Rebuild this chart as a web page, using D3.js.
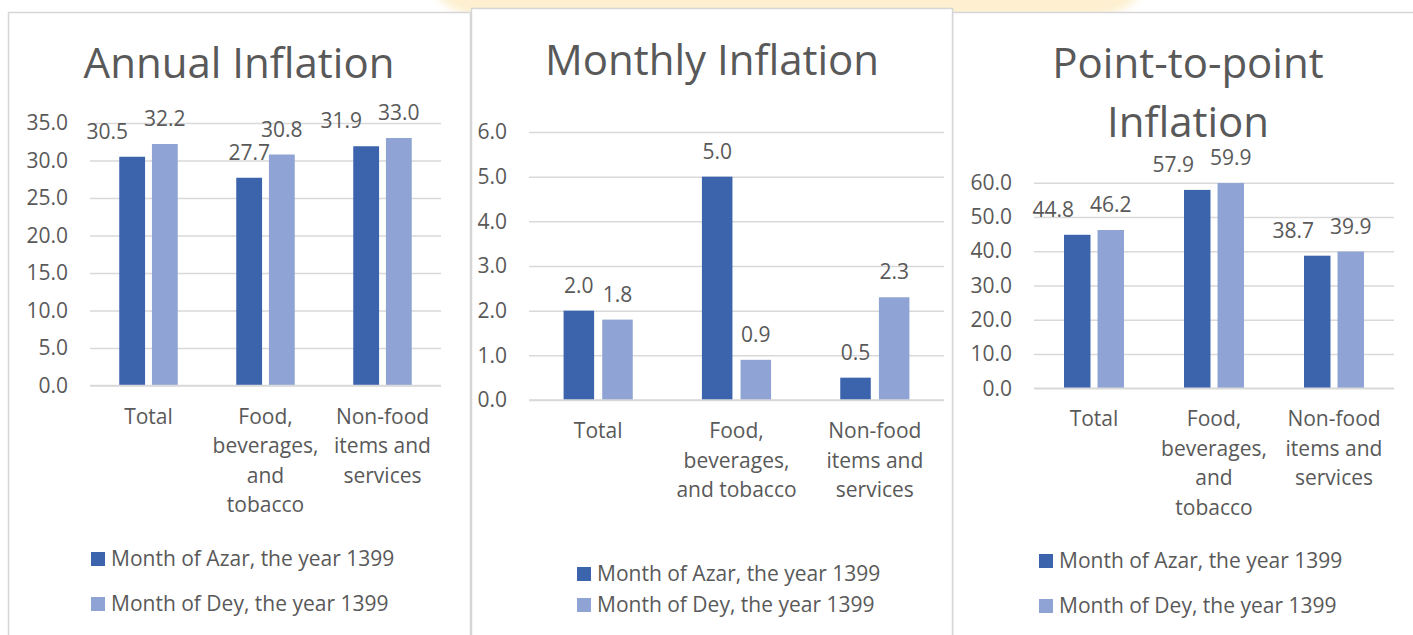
<!DOCTYPE html>
<html>
<head>
<meta charset="utf-8">
<script src="https://cdn.jsdelivr.net/npm/d3@7"></script>
<style>
  body { margin: 0; background: #fff; }
  svg text { font-family: "Open Sans", "Noto Sans", sans-serif; fill: #595959; }
</style>
</head>
<body>
<div id="chart"></div>
<script>
(function() {
	var width = 1413,
		height = 635;

	// chart data
	var categories = ["Total", "Food, beverages, and tobacco", "Non-food items and services"];
	var seriesNames = ["Month of Azar, the year 1399", "Month of Dey, the year 1399"];
	var seriesColors = ["#3b64ad", "#8fa4d4"];

	var annualAzar = [30.5, 27.7, 31.9];
	var annualDey = [32.2, 30.8, 33.0];
	var monthlyAzar = [2.0, 5.0, 0.5];
	var monthlyDey = [1.8, 0.9, 2.3];
	var p2pAzar = [44.8, 57.9, 38.7];
	var p2pDey = [46.2, 59.9, 39.9];

	var annualTicks = [0, 5, 10, 15, 20, 25, 30, 35];
	var monthlyTicks = [0, 1, 2, 3, 4, 5, 6];
	var p2pTicks = [0, 10, 20, 30, 40, 50, 60];

	var annualTitle = ["Annual Inflation"];
	var monthlyTitle = ["Monthly Inflation"];
	var p2pTitle = ["Point-to-point", "Inflation"];

	var fontSize = "21px";

	// layout of each chart box
	var panels = [
		{ box: [8, 12, 470], plot: [90, 441, 123, 385.5], titleY: 78, titleX: 239,
		  title: annualTitle, ticks: annualTicks, series: [annualAzar, annualDey],
		  legendX: 91, legendY: [552, 597] },
		{ box: [952, 12, 1414], plot: [1034, 1394, 182.7, 388.3], titleY: 78, titleX: 1188,
		  title: p2pTitle, ticks: p2pTicks, series: [p2pAzar, p2pDey],
		  legendX: 1039, legendY: [554, 599] },
		{ box: [471, 8, 952], plot: [529, 944, 132, 400], titleY: 75, titleX: 712,
		  title: monthlyTitle, ticks: monthlyTicks, series: [monthlyAzar, monthlyDey],
		  legendX: 577, legendY: [567, 598] }
	];

	var svg = d3.select("#chart")
		.append("svg")
		.attr("width", width)
		.attr("height", height);

	// faint yellow glow behind the middle box
	var defs = svg.append("defs");
	defs.append("filter").attr("id", "blur")
		.append("feGaussianBlur").attr("stdDeviation", 4);
	svg.append("rect")
		.attr("x", 432).attr("y", -60)
		.attr("width", 712).attr("height", 76)
		.attr("rx", 50)
		.attr("fill", "#fdefcf")
		.attr("filter", "url(#blur)");

	panels.forEach(function(p) {
		var g = svg.append("g");

		// box
		g.append("rect")
			.attr("x", p.box[0] + 0.5).attr("y", p.box[1] + 0.5)
			.attr("width", p.box[2] - p.box[0]).attr("height", height + 20)
			.attr("fill", "#fff")
			.attr("stroke", "#d6d6d6")
			.attr("stroke-width", 1.5);

		// title
		g.selectAll(".title")
			.data(p.title)
			.enter().append("text")
			.attr("x", p.titleX)
			.attr("y", function(d, i) { return p.titleY + i * 59; })
			.attr("text-anchor", "middle")
			.style("font-size", "42px")
			.text(function(d) { return d; });

		var x = d3.scaleBand()
			.domain(categories)
			.range([p.plot[0], p.plot[1]])
			.paddingInner(0.5)
			.paddingOuter(0.25);

		var xSeries = d3.scaleBand()
			.domain([0, 1])
			.range([0, x.bandwidth()])
			.paddingInner(0.21);

		var y = d3.scaleLinear()
			.domain([0, d3.max(p.ticks)])
			.range([p.plot[3], p.plot[2]]);

		// gridlines
		g.append("g")
			.attr("transform", "translate(" + p.plot[0] + ",0)")
			.call(d3.axisLeft(y).tickValues(p.ticks).tickSize(-(p.plot[1] - p.plot[0])).tickFormat(""))
			.call(function(a) {
				a.select(".domain").remove();
				a.selectAll("line").attr("stroke", "#d9d9d9").attr("stroke-width", 1.5);
			});

		// y tick labels
		g.append("g")
			.attr("transform", "translate(" + (p.plot[0] - 22) + ",0)")
			.call(d3.axisLeft(y).tickValues(p.ticks).tickSize(0).tickPadding(0).tickFormat(d3.format(".1f")))
			.call(function(a) {
				a.select(".domain").remove();
				a.selectAll("text").style("font-size", fontSize).attr("fill", "#595959").attr("font-family", null);
			});

		// bars
		var step = x.step();
		p.series.forEach(function(values, si) {
			g.selectAll(".bar" + si)
				.data(values)
				.enter().append("rect")
				.attr("x", function(d, i) { return x(categories[i]) + xSeries(si); })
				.attr("y", function(d) { return y(d); })
				.attr("width", xSeries.bandwidth())
				.attr("height", function(d) { return y(0) - y(d); })
				.attr("fill", seriesColors[si]);
		});

		// data labels, nudged apart when they would overlap
		categories.forEach(function(c, i) {
			var labels = p.series.map(function(values, si) {
				return g.append("text")
					.attr("x", x(c) + xSeries(si) + xSeries.bandwidth() / 2)
					.attr("y", y(values[i]) - 18)
					.attr("text-anchor", "middle")
					.style("font-size", fontSize)
					.text(d3.format(".1f")(values[i]));
			});
			var a = labels[0], b = labels[1];
			var ya = +a.attr("y"), yb = +b.attr("y");
			var xa = +a.attr("x"), xb = +b.attr("x");
			var wa = a.node().getComputedTextLength(), wb = b.node().getComputedTextLength();
			if (Math.abs(ya - yb) < 20 && xb - xa < (wa + wb) / 2 + 4) {
				a.attr("x", xb - (wa + wb) / 2 - 16);
			}
		});

		// category labels
		var xAxis = g.append("g")
			.attr("transform", "translate(0," + p.plot[3] + ")")
			.call(d3.axisBottom(x).tickSize(0).tickPadding(0))
			.call(function(a) {
				a.select(".domain").remove();
			});
		xAxis.selectAll("text")
			.attr("font-family", null)
			.style("font-size", fontSize)
			.attr("fill", "#595959")
			.attr("dy", null)
			.attr("y", 38)
			.each(function() { wrap(d3.select(this), step); });

		// x axis line
		g.append("line")
			.attr("x1", p.plot[0]).attr("x2", p.plot[1])
			.attr("y1", p.plot[3]).attr("y2", p.plot[3])
			.attr("stroke", "#d9d9d9").attr("stroke-width", 1.5);

		// legend
		var legend = g.selectAll(".legend")
			.data(seriesNames)
			.enter().append("g")
			.attr("transform", function(d, i) { return "translate(" + p.legendX + "," + p.legendY[i] + ")"; });
		legend.append("rect")
			.attr("width", 14).attr("height", 14)
			.attr("fill", function(d, i) { return seriesColors[i]; });
		legend.append("text")
			.attr("x", 20).attr("y", 14)
			.style("font-size", fontSize)
			.text(function(d) { return d; });
	});

	// break a label into lines no wider than maxWidth
	function wrap(text, maxWidth) {
		var words = text.text().split(/\s+/),
			yPos = text.attr("y"),
			line = [],
			lineNo = 0,
			tspan = text.text(null).append("tspan").attr("x", 0).attr("y", yPos);
		words.forEach(function(word) {
			line.push(word);
			tspan.text(line.join(" "));
			if (tspan.node().getComputedTextLength() > maxWidth && line.length > 1) {
				line.pop();
				tspan.text(line.join(" "));
				line = [word];
				lineNo++;
				tspan = text.append("tspan").attr("x", 0).attr("y", +yPos + lineNo * 29.5).text(word);
			}
		});
	}
}) ();
</script>
</body>
</html>
